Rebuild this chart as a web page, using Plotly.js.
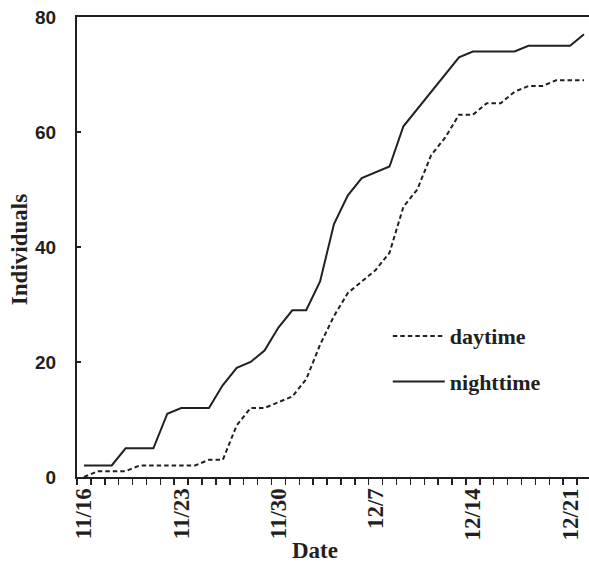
<!DOCTYPE html>
<html>
<head>
<meta charset="utf-8">
<script src="https://cdn.plot.ly/plotly-3.0.1.min.js"></script>
<style>
  html, body { margin: 0; padding: 0; background: #fff; overflow: hidden; }
  #chart { width: 589px; height: 563px; }
</style>
</head>
<body>
<div id="chart"></div>
<script>
// Observation days, 11/16 through 12/22
const dates = [
  '11/16','11/17','11/18','11/19','11/20','11/21','11/22','11/23','11/24','11/25',
  '11/26','11/27','11/28','11/29','11/30',
  '12/1','12/2','12/3','12/4','12/5','12/6','12/7','12/8','12/9','12/10',
  '12/11','12/12','12/13','12/14','12/15','12/16','12/17','12/18','12/19','12/20',
  '12/21','12/22'
];

// Cumulative number of individuals
const daytime = [
  0, 1, 1, 1, 2, 2, 2, 2, 2, 3,
  3, 9, 12, 12, 13, 14, 17, 23, 28, 32,
  34, 36, 39, 47, 50, 56, 59, 63, 63, 65,
  65, 67, 68, 68, 69, 69, 69
];
const nighttime = [
  2, 2, 2, 5, 5, 5, 11, 12, 12, 12,
  16, 19, 20, 22, 26, 29, 29, 34, 44, 49,
  52, 53, 54, 61, 64, 67, 70, 73, 74, 74,
  74, 74, 75, 75, 75, 75, 77
];

// Weekly date labels and the y tick values
const labelledDates = ['11/16','11/23','11/30','12/7','12/14','12/21'];
const yTicks = [0, 20, 40, 60, 80];

const ink = '#231f20';
const serif = 'Liberation Serif, Times New Roman, serif';
const sans = 'Liberation Sans, Arial, sans-serif';

const traces = [
  {
    x: dates, y: daytime, name: 'daytime', type: 'scatter', mode: 'lines',
    legendgroup: 'day',
    line: { color: ink, width: 2, dash: '4.5px,3px' }
  },
  {
    x: dates, y: nighttime, name: 'nighttime', type: 'scatter', mode: 'lines',
    legendgroup: 'night',
    line: { color: ink, width: 2 }
  }
];

const layout = {
  width: 589, height: 563,
  margin: { l: 77, r: 0, t: 17, b: 86, pad: 0 },
  paper_bgcolor: '#fff', plot_bgcolor: '#fff',
  showlegend: true,
  legend: {
    x: 0.607, y: 0.352, xanchor: 'left', yanchor: 'top',
    bgcolor: 'rgba(0,0,0,0)', borderwidth: 0,
    traceorder: 'grouped', tracegroupgap: 14,
    itemwidth: 52,
    font: { family: serif, size: 22, color: ink, weight: 'bold' }
  },
  xaxis: {
    type: 'category',
    categoryorder: 'array', categoryarray: dates,
    range: [-0.5, 36.36],
    tickmode: 'array',
    tickvals: dates,
    ticktext: dates.map(d => labelledDates.includes(d) ? d : ''),
    tickson: 'boundaries',
    ticks: 'outside', ticklen: 6, tickwidth: 1.5, tickcolor: ink,
    tickangle: -90,
    tickfont: { family: serif, size: 23, color: ink, weight: 'bold' },
    showline: true, linewidth: 2, linecolor: ink, mirror: true,
    showgrid: false, zeroline: false,
    fixedrange: true
  },
  yaxis: {
    range: [0, 80],
    tickmode: 'array', tickvals: yTicks, ticktext: yTicks.map(String),
    ticks: 'inside', ticklen: 4, tickwidth: 1.5, tickcolor: ink,
    ticklabelstandoff: 15,
    tickfont: { family: sans, size: 19, color: ink, weight: 'bold' },
    showline: true, linewidth: 2, linecolor: ink,
    showgrid: false, zeroline: false,
    fixedrange: true
  },
  annotations: [
    {
      text: 'Date', xref: 'paper', yref: 'paper',
      x: 0.465, y: -0.1587, xanchor: 'center', yanchor: 'middle',
      showarrow: false,
      font: { family: serif, size: 23, color: ink, weight: 'bold' }
    },
    {
      text: 'Individuals', xref: 'paper', yref: 'paper',
      x: -0.111, y: 0.4935, xanchor: 'center', yanchor: 'middle',
      textangle: -90, showarrow: false,
      font: { family: serif, size: 23, color: ink, weight: 'bold' }
    }
  ]
};

Plotly.newPlot('chart', traces, layout, { displayModeBar: false, staticPlot: true });
</script>
</body>
</html>
